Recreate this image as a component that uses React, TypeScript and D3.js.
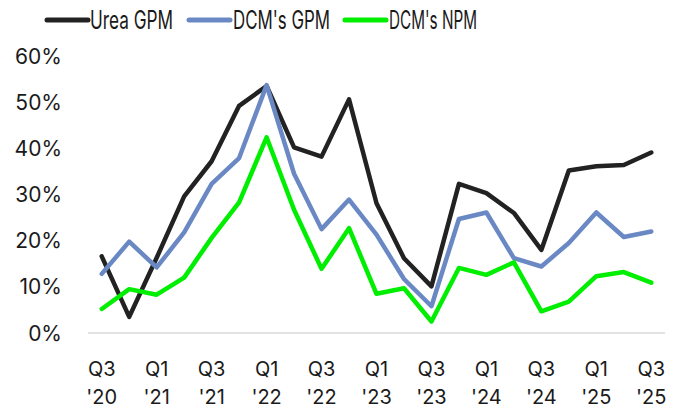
import React from "react";
import * as d3 from "d3";

const quarters = ["Q3 '20","Q4 '20","Q1 '21","Q2 '21","Q3 '21","Q4 '21","Q1 '22","Q2 '22","Q3 '22","Q4 '22","Q1 '23","Q2 '23","Q3 '23","Q4 '23","Q1 '24","Q2 '24","Q3 '24","Q4 '24","Q1 '25","Q2 '25","Q3 '25"];
const ureaGPM = [16.6,3.5,16.3,29.6,37.2,49.2,53.5,40.2,38.2,50.6,28.1,16.2,10.1,32.3,30.3,26.0,18.0,35.2,36.1,36.4,39.1];
const dcmGPM = [12.8,19.8,14.2,21.8,32.3,37.9,53.7,34.5,22.5,28.9,21.3,11.7,5.8,24.7,26.1,16.2,14.4,19.5,26.1,20.8,22.0];
const dcmNPM = [5.2,9.5,8.3,12.0,20.6,28.3,42.4,26.7,13.9,22.7,8.5,9.7,2.5,14.1,12.6,15.3,4.7,6.8,12.3,13.2,10.9];
const yTicks = [0,10,20,30,40,50,60];

const seriesNames = ["Urea GPM","DCM's GPM","DCM's NPM"];
const seriesColors = ["#222222","#6a89c4","#00ee00"];
const seriesData = [ureaGPM, dcmGPM, dcmNPM];

export default function App() {
  const W = 683, H = 410;
  const x = d3.scaleBand<string>().domain(quarters).range([88, 665]).padding(0);
  const y = d3.scaleLinear().domain([0, 60]).range([333, 56]);
  const cx = (q: string) => (x(q) as number) + x.bandwidth() / 2;
  const line = d3.line<number>().x((_, i) => cx(quarters[i])).y(d => y(d));
  const font = "Inter, 'Noto Sans', sans-serif";
  const legend = [
    { lx: 47, tx: 90, tw: 83 },
    { lx: 189, tx: 233, tw: 97 },
    { lx: 345, tx: 389, tw: 88 },
  ];
  return (
    <svg width={W} height={H} style={{ position: "absolute", left: 0, top: 0 }} fontFamily={font}>
      <rect width={W} height={H} fill="#fff" />
      {legend.map((l, i) => (
        <g key={i}>
          <line x1={l.lx} x2={l.lx + 41} y1={20} y2={20} stroke={seriesColors[i]} strokeWidth={5} strokeLinecap="round" />
          <text x={l.tx} y={20} dy="0.36em" fontSize={25} fill="#1a1a1a" textLength={l.tw} lengthAdjust="spacingAndGlyphs">{seriesNames[i]}</text>
        </g>
      ))}
      {yTicks.map(t => (
        <text key={t} x={62} y={y(t)} dy="0.36em" textAnchor="end" fontSize={21} fill="#1a1a1a">{t + "%"}</text>
      ))}
      <line x1={88} x2={665} y1={y(0)} y2={y(0)} stroke="#d9d9d9" strokeWidth={1.5} />
      {quarters.map((q, i) => i % 2 === 0 ? (
        <text key={q} x={cx(q)} textAnchor="middle" fontSize={20} fill="#1a1a1a">
          <tspan x={cx(q)} y={376}>{q.split(" ")[0]}</tspan>
          <tspan x={cx(q)} y={404}>{q.split(" ")[1]}</tspan>
        </text>
      ) : null)}
      {seriesData.map((s, i) => (
        <path key={i} d={line(s) || ""} fill="none" stroke={seriesColors[i]} strokeWidth={4.5} strokeLinejoin="round" strokeLinecap="round" />
      ))}
    </svg>
  );
}
